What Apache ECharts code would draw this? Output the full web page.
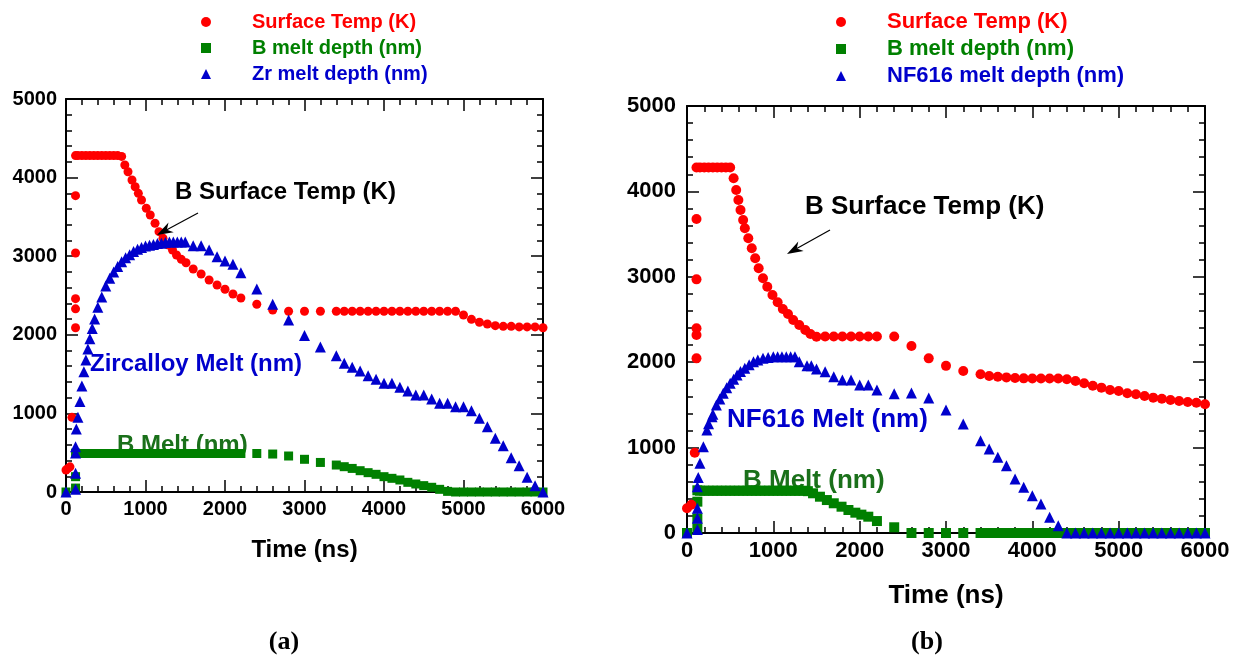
<!DOCTYPE html>
<html>
<head>
<meta charset="utf-8">
<script src="https://cdn.jsdelivr.net/npm/echarts@6/dist/echarts.min.js"></script>
<style>
  html, body { margin: 0; padding: 0; background: #fff; }
  #chart { width: 1243px; height: 655px; }
</style>
</head>
<body>
<div id="chart"></div>
<script>
// ---- Panel (a): boron on Zircalloy — [time (ns), value] ----
const tempA = [
  [0,280],[25,300],[50,320],[75,950],[120,2090],[120,2330],[120,2460],[120,3040],[120,3770],
  [120,4280],[150,4280],[200,4280],[250,4280],[300,4280],[350,4280],[400,4280],[450,4280],
  [500,4280],[550,4280],[600,4280],[650,4280],[700,4270],
  [740,4160],[780,4075],[830,3970],[870,3884],[910,3800],[950,3715],[1010,3610],[1060,3524],
  [1120,3419],[1170,3312],[1220,3228],[1290,3142],[1340,3079],[1390,3015],[1450,2960],[1510,2917],
  [1600,2837],[1700,2774],[1800,2697],[1900,2634],[2000,2579],[2100,2519],[2200,2468],
  [2400,2388],[2600,2316],[2800,2300],[3000,2300],[3200,2300],
  [3400,2300],[3500,2300],[3600,2300],[3700,2300],[3800,2300],[3900,2300],[4000,2300],[4100,2300],
  [4200,2300],[4300,2300],[4400,2300],[4500,2300],[4600,2300],[4700,2300],[4800,2300],[4900,2300],
  [5000,2252],[5100,2197],[5200,2159],[5300,2137],[5400,2116],[5500,2108],[5600,2108],[5700,2100],
  [5800,2100],[5900,2100],[6000,2090]
];
const bMeltA = [
  [0,0],[120,50],[120,195],[120,495],
  [150,490],[200,490],[250,490],[300,490],[350,490],[400,490],[450,490],[500,490],[550,490],
  [600,490],[650,490],[700,490],[750,490],[800,490],[850,490],[900,490],[950,490],[1000,490],
  [1050,490],[1100,490],[1150,490],[1200,490],[1250,490],[1300,490],[1350,490],[1400,490],
  [1450,490],[1500,490],[1550,490],[1600,490],[1650,490],[1700,490],[1750,490],[1800,490],
  [1850,490],[1900,490],[1950,490],[2000,490],[2050,490],[2100,490],[2150,490],[2200,490],
  [2400,490],[2600,483],[2800,458],[3000,416],[3200,376],[3400,343],[3500,322],[3600,300],
  [3700,271],[3800,246],[3900,225],[4000,195],[4100,174],[4200,153],[4300,123],[4400,102],
  [4500,81],[4600,60],[4700,34],[4800,8],[4900,0],[5000,0],[5100,0],[5200,0],[5300,0],
  [5400,0],[5500,0],[5600,0],[5700,0],[5800,0],[5900,0],[6000,0]
];
const zrMeltA = [
  [0,0],[120,35],[120,238],[120,496],[120,576],
  [130,800],[150,950],[175,1150],[200,1350],[225,1530],[250,1680],[275,1820],[300,1950],
  [330,2080],[360,2200],[400,2350],[450,2480],[500,2620],[550,2720],[600,2800],[650,2870],
  [700,2930],[750,2980],[800,3020],[850,3060],[900,3090],[950,3110],[1000,3130],[1050,3140],
  [1100,3150],[1150,3160],[1200,3165],[1250,3175],[1300,3180],[1350,3180],[1400,3180],
  [1450,3180],[1500,3180],
  [1600,3134],[1700,3134],[1800,3079],[1900,2994],[2000,2939],[2100,2897],[2200,2790],
  [2400,2583],[2600,2388],[2800,2188],[3000,1990],[3200,1845],[3400,1734],[3500,1637],
  [3600,1586],[3700,1539],[3800,1480],[3900,1434],[4000,1383],[4100,1383],[4200,1332],
  [4300,1285],[4400,1234],[4500,1234],[4600,1183],[4700,1128],[4800,1128],[4900,1085],
  [5000,1085],[5100,1035],[5200,938],[5300,831],[5400,683],[5500,589],[5600,437],[5700,335],
  [5800,187],[5900,80],[6000,0]
];

// ---- Panel (b): boron on NF616 — [time (ns), value] ----
const tempB = [
  [0,290],[50,330],[90,940],[110,2045],[110,2318],[110,2397],[110,2970],[110,3677],
  [110,4280],[150,4280],[200,4280],[250,4280],[300,4280],[350,4280],[400,4280],[450,4280],[500,4280],
  [540,4153],[570,4016],[595,3899],[620,3782],[650,3665],[670,3568],[710,3451],[750,3334],
  [790,3217],[830,3100],[880,2982],[930,2884],[990,2787],[1050,2701],[1110,2623],[1170,2564],
  [1230,2494],[1300,2436],[1370,2377],[1430,2330],[1500,2299],
  [1600,2300],[1700,2300],[1800,2300],[1900,2300],[2000,2300],[2100,2300],[2200,2300],
  [2400,2300],[2600,2190],[2800,2045],[3000,1957],[3200,1897],[3400,1858],[3500,1838],
  [3600,1830],[3700,1822],[3800,1815],[3900,1811],[4000,1810],[4100,1810],[4200,1810],
  [4300,1810],[4400,1800],[4500,1780],[4600,1753],[4700,1725],[4800,1702],[4900,1674],
  [5000,1663],[5100,1636],[5200,1624],[5300,1604],[5400,1585],[5500,1573],[5600,1557],
  [5700,1546],[5800,1534],[5900,1526],[6000,1507]
];
const bMeltB = [
  [0,0],[120,55],[120,172],[120,367],[120,500],
  [150,495],[200,495],[250,495],[300,495],[350,495],[400,495],[450,495],[500,495],[550,495],
  [600,495],[650,495],[700,495],[750,495],[800,495],[850,495],[900,495],[950,495],[1000,495],
  [1050,495],[1100,495],[1150,495],[1200,495],[1250,495],[1300,495],[1350,495],[1400,490],
  [1460,465],[1540,425],[1620,386],[1700,348],[1790,308],[1870,269],[1950,238],[2020,215],
  [2100,191],[2200,140],[2400,67],[2600,0],[2800,0],[3000,0],[3200,0],
  [3400,0],[3500,0],[3600,0],[3700,0],[3800,0],[3900,0],[4000,0],[4100,0],[4200,0],[4300,0],
  [4400,0],[4500,0],[4600,0],[4700,0],[4800,0],[4900,0],[5000,0],[5100,0],[5200,0],[5300,0],
  [5400,0],[5500,0],[5600,0],[5700,0],[5800,0],[5900,0],[6000,0]
];
const nfMeltB = [
  [0,0],[120,40],[120,172],[120,290],[120,542],
  [130,650],[150,816],[190,1011],[230,1206],[250,1280],[290,1362],[300,1390],[340,1499],
  [380,1570],[420,1636],[460,1700],[500,1753],[540,1800],[580,1850],[620,1890],[670,1928],
  [720,1970],[770,2006],[820,2025],[880,2045],[940,2055],[1000,2064],[1050,2064],[1100,2064],
  [1150,2064],[1200,2064],[1250,2064],
  [1300,2006],[1390,1959],[1440,1959],[1500,1920],[1600,1889],[1700,1830],[1800,1791],
  [1900,1791],[2000,1733],[2100,1733],[2200,1674],[2400,1630],[2600,1640],[2800,1580],
  [3000,1440],[3200,1276],[3400,1081],[3500,984],[3600,886],[3700,788],[3800,632],[3900,535],
  [4000,437],[4100,340],[4200,184],[4300,86],[4400,0],[4500,0],[4600,0],[4700,0],[4800,0],
  [4900,0],[5000,0],[5100,0],[5200,0],[5300,0],[5400,0],[5500,0],[5600,0],[5700,0],[5800,0],
  [5900,0],[6000,0]
];

const seriesNames = ['Surface Temp (K)', 'B melt depth (nm)', 'Zr melt depth (nm)', 'NF616 melt depth (nm)'];
const xAxisTitle = 'Time (ns)';
const xRange = [0, 6000];
const yRange = [0, 5000];

const RED = '#ff0000', GREEN = '#008000', BLUE = '#0000cc';
const SANS = '"Liberation Sans", Arial, Helvetica, sans-serif';
const SERIF = '"Liberation Serif", "Times New Roman", serif';

function axis(range, gridIndex, position, fontSize, showLabels, margin, extra) {
  return Object.assign({
    type: 'value', gridIndex, position, min: range[0], max: range[1], interval: 1000,
    axisLine: { show: true, onZero: false, lineStyle: { color: '#000', width: 2 } },
    axisTick: { show: true, inside: true, length: 12, lineStyle: { color: '#000', width: 1.5 } },
    minorTick: { show: true, splitNumber: 5, length: 6, lineStyle: { color: '#000', width: 1.5 } },
    splitLine: { show: false }, minorSplitLine: { show: false },
    axisLabel: {
      show: showLabels, margin, fontFamily: SANS, fontWeight: 'bold', fontSize, color: '#000',
      formatter: v => String(v)
    }
  }, extra || {});
}

function pts(name, data, axisIndex, symbol, size, color, z) {
  return {
    type: 'scatter', name, data, xAxisIndex: axisIndex, yAxisIndex: axisIndex,
    symbol, symbolSize: size, itemStyle: { color, opacity: 1 },
    clip: false, z, silent: true, animation: false
  };
}

function legend(names, left, top, fontSize, gap) {
  const icons = ['circle', 'rect', 'triangle'];
  const colors = [RED, GREEN, BLUE];
  return {
    orient: 'vertical', left, top, itemWidth: 10, itemHeight: 10, itemGap: gap,
    selectedMode: false,
    textStyle: { fontFamily: SANS, fontWeight: 'bold', fontSize, lineHeight: fontSize, padding: [0, 0, 0, 36] },
    data: names.map((n, i) => ({ name: n, icon: icons[i], textStyle: { color: colors[i] } }))
  };
}

function label(text, x, y, size, color) {
  return {
    type: 'text', x, y, z: 0, zlevel: 0,
    style: { text, font: 'bold ' + size + 'px ' + SANS, fill: color, verticalAlign: 'middle', align: 'left' }
  };
}

// straight arrow with a notched, filled head ending at (x2, y2)
function arrow(x1, y1, x2, y2) {
  const dx = x2 - x1, dy = y2 - y1, len = Math.hypot(dx, dy);
  const ux = dx / len, uy = dy / len, nx = -uy, ny = ux;
  const hl = 16, hw = 5.5;
  const bx = x2 - ux * hl, by = y2 - uy * hl;
  const notchX = x2 - ux * hl * 0.7, notchY = y2 - uy * hl * 0.7;
  return [
    { type: 'line', z: 100, shape: { x1, y1, x2: notchX, y2: notchY }, style: { stroke: '#000', lineWidth: 1.2 } },
    { type: 'polygon', z: 100, shape: { points: [[x2, y2], [bx + nx * hw, by + ny * hw], [notchX, notchY], [bx - nx * hw, by - ny * hw]] }, style: { fill: '#000' } }
  ];
}

const chart = echarts.init(document.getElementById('chart'), null, { renderer: 'canvas' });

const option = {
  backgroundColor: '#fff',
  animation: false,
  grid: [
    { left: 66, top: 99, width: 477, height: 393 },
    { left: 687, top: 106, width: 518, height: 427 }
  ],
  xAxis: [
    axis(xRange, 0, 'bottom', 20, true, 7, {
      name: xAxisTitle, nameLocation: 'middle', nameGap: 46,
      nameTextStyle: { fontFamily: SANS, fontWeight: 'bold', fontSize: 24, color: '#000' }
    }),
    axis(xRange, 0, 'top', 20, false, 7),
    axis(xRange, 1, 'bottom', 22, true, 7, {
      name: xAxisTitle, nameLocation: 'middle', nameGap: 50,
      nameTextStyle: { fontFamily: SANS, fontWeight: 'bold', fontSize: 26, color: '#000' }
    }),
    axis(xRange, 1, 'top', 22, false, 7)
  ],
  yAxis: [
    axis(yRange, 0, 'left', 20, true, 9),
    axis(yRange, 0, 'right', 20, false, 9),
    axis(yRange, 1, 'left', 22, true, 11),
    axis(yRange, 1, 'right', 22, false, 11)
  ],
  legend: [
    legend([seriesNames[0], seriesNames[1], seriesNames[2]], 196, 7, 20, 6),
    legend([seriesNames[0], seriesNames[1], seriesNames[3]], 831, 6, 22, 5)
  ],
  series: [
    pts(seriesNames[1], bMeltA, 0, 'rect', 9, GREEN, 3),
    pts(seriesNames[0], tempA, 0, 'circle', 9, RED, 4),
    pts(seriesNames[2], zrMeltA, 0, 'triangle', 11, BLUE, 5),
    pts(seriesNames[1], bMeltB, 2, 'rect', 10, GREEN, 3),
    pts(seriesNames[0], tempB, 2, 'circle', 10, RED, 4),
    pts(seriesNames[3], nfMeltB, 2, 'triangle', 11, BLUE, 5)
  ],
  graphic: [
    label('B Surface Temp (K)', 175, 192, 24, '#000'),
    label('Zircalloy Melt (nm)', 90, 364, 24, BLUE),
    label('B Melt (nm)', 117, 445, 24, '#1a701a'),
    label('B Surface Temp (K)', 805, 207, 26, '#000'),
    label('NF616 Melt (nm)', 727, 420, 26, BLUE),
    label('B Melt (nm)', 743, 481, 26, '#1a701a'),
    ...arrow(198, 213, 157, 235),
    ...arrow(830, 230, 787, 254),
    { type: 'text', x: 284, y: 642, z: 0, style: { text: '(a)', font: 'bold 26px ' + SERIF, fill: '#000', align: 'center', verticalAlign: 'middle' } },
    { type: 'text', x: 927, y: 642, z: 0, style: { text: '(b)', font: 'bold 26px ' + SERIF, fill: '#000', align: 'center', verticalAlign: 'middle' } }
  ]
};

chart.setOption(option);
</script>
</body>
</html>
